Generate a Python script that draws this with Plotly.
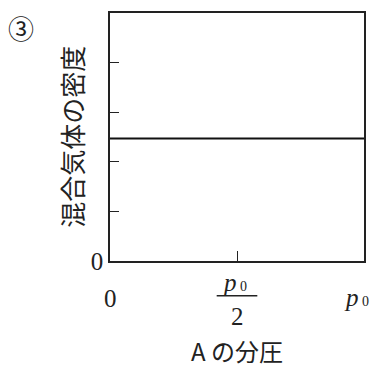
import plotly.graph_objects as go

# partial pressure of A (fraction of p0) and density of the gas mixture
pressure_a = [0.0, 1.0]
density = [2.47, 2.47]

y_ticks = [0, 1, 2, 3, 4]
y_tick_text = ["0", "", "", "", ""]
x_ticks = [0.5]

SERIF = "Liberation Serif, Times New Roman, serif"
CJK = "Noto Sans CJK JP, sans-serif"
INK = "#222222"

fig = go.Figure(go.Scatter(
    x=pressure_a, y=density, mode="lines",
    line=dict(color="#111111", width=2.2),
    hoverinfo="skip", showlegend=False,
))

# page body has an 8px margin; keep the figure inside the window
fig.update_layout(
    width=363, height=359,
    margin=dict(l=102, r=7, t=3, b=106),
    plot_bgcolor="white", paper_bgcolor="white",
    xaxis=dict(
        range=[0, 1], tickvals=x_ticks, showticklabels=False,
        ticks="inside", ticklen=10, tickwidth=1.3, tickcolor=INK,
        showline=True, linecolor=INK, linewidth=1.5, mirror=True,
        showgrid=False, zeroline=False, fixedrange=True,
    ),
    yaxis=dict(
        range=[0, 5], tickvals=y_ticks, ticktext=y_tick_text,
        ticks="inside", ticklen=9, tickwidth=1.3, tickcolor=INK,
        tickfont=dict(family=SERIF, size=25, color=INK),
        showline=True, linecolor=INK, linewidth=1.5, mirror=True,
        showgrid=False, zeroline=False, fixedrange=True,
    ),
)

p0 = "<i>p</i><span style='font-size:14px'> 0</span>"
labels = [
    # x, xshift, yshift, text
    (0.0, 0, -37, "0"),
    (0.5, -3, -21, p0),
    (0.5, 0, -55, "2"),
    (1.0, -8, -36, p0),
]
for x, dx, dy, txt in labels:
    fig.add_annotation(
        x=x, xref="x", y=0, yref="paper", xshift=dx, yshift=dy,
        text=txt, showarrow=False, xanchor="center", yanchor="middle",
        font=dict(family=SERIF, size=25, color=INK),
    )

# fraction bar of p0/2
fig.add_shape(type="line", xref="x", yref="paper",
              x0=0.42, x1=0.58, y0=-0.14, y1=-0.14,
              line=dict(color=INK, width=1.4))

fig.add_annotation(
    x=0.5, xref="x", y=0, yref="paper", yshift=-89, borderpad=0,
    text="A の分圧", showarrow=False, xanchor="center", yanchor="middle",
    font=dict(family=CJK, size=24, color=INK),
)
fig.add_annotation(
    x=-0.155, xref="paper", y=0.5, yref="paper",
    text="混合気体の密度", textangle=-90, showarrow=False,
    xanchor="center", yanchor="middle",
    font=dict(family=CJK, size=26, color=INK),
)
fig.add_annotation(
    x=-0.35, xref="paper", y=0.94, yref="paper",
    text="③", showarrow=False, xanchor="center", yanchor="middle",
    font=dict(family=CJK, size=26, color=INK),
)

fig.write_html("out.html")
